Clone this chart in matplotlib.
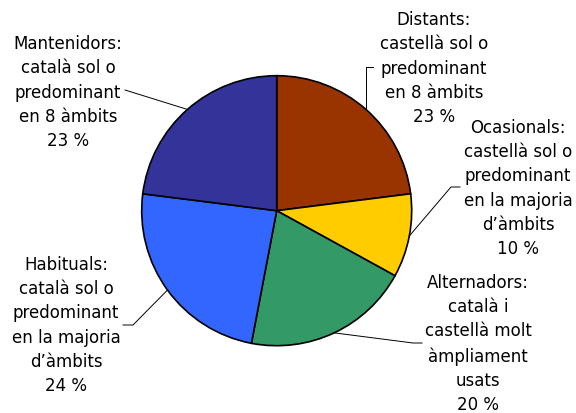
import matplotlib.pyplot as plt
import numpy as np

labels = ['Distants:\ncastellà sol o\npredominant\nen 8 àmbits',
          'Ocasionals:\ncastellà sol o\npredominant\nen la majoria\nd\u2019àmbits',
          'Alternadors:\ncatalà i\ncastellà molt\nàmpliament\nusats',
          'Habituals:\ncatalà sol o\npredominant\nen la majoria\nd\u2019àmbits',
          'Mantenidors:\ncatalà sol o\npredominant\nen 8 àmbits']
values = [23, 10, 20, 24, 23]
colors = ['#993300', '#FFCC00', '#339966', '#3366FF', '#333399']

# label block centres and leader elbows, in pixels (y measured from top)
text_pos = [(434, 68.5), (518, 188.5), (478, 344), (66, 325.5), (68, 92.5)]
elbows = [[(None, 68), (373, 68)],
          [(451, 188), (460, 188)],
          [(413, 344), (422, 344)],
          [(133, 326), (123, 326)],
          [(125, 91)]]

W, H = 576, 414
cx, cy, r = 276.7, H - 211.7, 135

fig = plt.figure(figsize=(5.76, 4.14), dpi=100)
ax = fig.add_axes([0, 0, 1, 1])
wedges, _ = ax.pie(values, colors=colors, startangle=90, counterclock=False,
                   center=(cx, cy), radius=r,
                   wedgeprops=dict(edgecolor='black', linewidth=1.2))
ax.set_xlim(0, W)
ax.set_ylim(0, H)
ax.axis('off')

for w, lab, v, (tx, ty), elb in zip(wedges, labels, values, text_pos, elbows):
    ang = np.deg2rad((w.theta1 + w.theta2) / 2)
    x0 = cx + r * np.cos(ang)
    y0 = cy + r * np.sin(ang)
    xs = [x0]
    ys = [y0]
    for ex, ey in elb:
        xs.append(x0 if ex is None else ex)
        ys.append(H - ey)
    ax.plot(xs, ys, color='black', lw=0.7)
    ax.text(tx, H - ty, f'{lab}\n{v} %', ha='center', va='center',
            multialignment='center', fontsize=12, linespacing=1.45,
            color='black')

fig.savefig('out.png', dpi=100)
